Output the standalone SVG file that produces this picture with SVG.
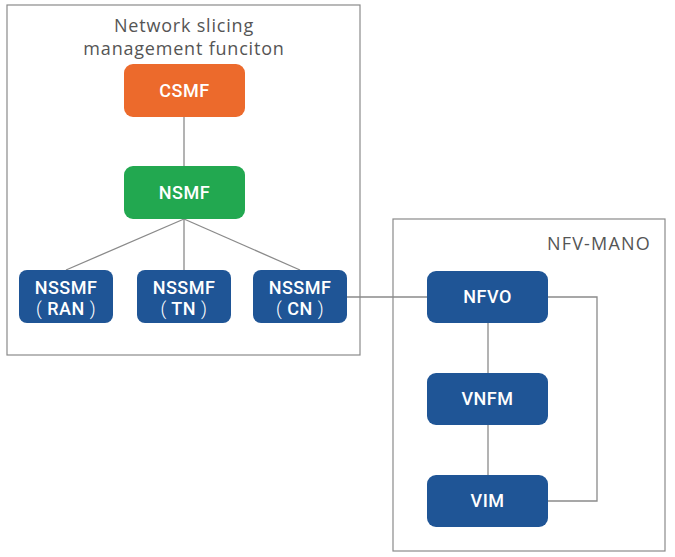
<svg xmlns="http://www.w3.org/2000/svg" width="675" height="557" viewBox="0 0 675 557">
<style>
.frame{fill:#fff;stroke:#8a8a8a;stroke-width:1.2}
.title{font-family:"Open Sans","Noto Sans",sans-serif;font-size:18px;fill:#555;letter-spacing:0.8px}
.lbl{font-family:Roboto,"Open Sans",sans-serif;font-size:18px;font-weight:500;fill:#fff;text-anchor:middle;letter-spacing:0.5px}
.par{font-weight:300}
.blue{fill:#1F5596}
.conn line,.conn polyline{stroke:#8a8a8a;stroke-width:1.3;fill:none}
</style>
<rect width="675" height="557" fill="#fff"/>
<g id="nsmf-frame">
<rect class="frame" x="7" y="5" width="353" height="350"/>
<text class="title" x="184" y="32" text-anchor="middle">Network slicing</text>
<text class="title" x="184" y="55" text-anchor="middle">management funciton</text>
</g>
<g id="mano-frame">
<rect class="frame" x="393" y="219" width="272" height="332"/>
<text class="title" x="651" y="250" text-anchor="end" style="letter-spacing:1.2px">NFV-MANO</text>
</g>
<g class="conn" id="connectors">
<line x1="184" y1="117" x2="184" y2="166"/>
<line x1="184" y1="219" x2="66" y2="270"/>
<line x1="184" y1="219" x2="184" y2="270"/>
<line x1="184" y1="219" x2="300" y2="270"/>
<line x1="347" y1="297" x2="427" y2="297"/>
<line x1="488" y1="323" x2="488" y2="373"/>
<line x1="488" y1="425" x2="488" y2="475"/>
<polyline points="548,297 597,297 597,501 548,501"/>
</g>
<g id="csmf"><rect x="124" y="64" width="121" height="53" rx="9" fill="#EC6A2C"/><text class="lbl" x="184.5" y="97">CSMF</text></g>
<g id="nsmf"><rect x="124" y="166" width="121" height="53" rx="9" fill="#22A850"/><text class="lbl" x="184.5" y="199">NSMF</text></g>
<g id="nssmf-ran"><rect class="blue" x="19" y="270" width="94" height="53" rx="8"/><text class="lbl" x="66" y="294">NSSMF</text><text class="lbl" x="66" y="315"><tspan class="par">(</tspan> RAN <tspan class="par">)</tspan></text></g>
<g id="nssmf-tn"><rect class="blue" x="137" y="270" width="94" height="53" rx="8"/><text class="lbl" x="184" y="294">NSSMF</text><text class="lbl" x="184" y="315"><tspan class="par">(</tspan> TN <tspan class="par">)</tspan></text></g>
<g id="nssmf-cn"><rect class="blue" x="253" y="270" width="94" height="53" rx="8"/><text class="lbl" x="300" y="294">NSSMF</text><text class="lbl" x="300" y="315"><tspan class="par">(</tspan> CN <tspan class="par">)</tspan></text></g>
<g id="nfvo"><rect class="blue" x="427" y="271" width="121" height="52" rx="9"/><text class="lbl" x="487.5" y="303">NFVO</text></g>
<g id="vnfm"><rect class="blue" x="427" y="373" width="121" height="52" rx="9"/><text class="lbl" x="487.5" y="405">VNFM</text></g>
<g id="vim"><rect class="blue" x="427" y="475" width="121" height="52" rx="9"/><text class="lbl" x="487.5" y="507">VIM</text></g>
</svg>
